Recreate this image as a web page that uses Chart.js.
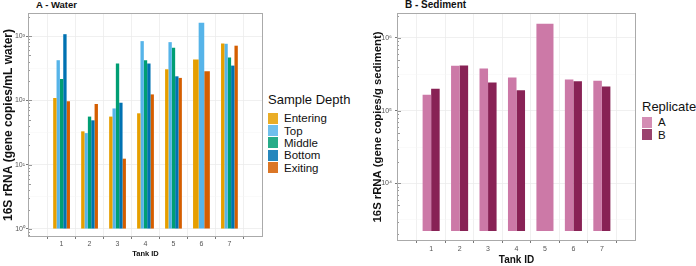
<!DOCTYPE html>
<html lang="en">
<head>
<meta charset="UTF-8" />
<title>16S rRNA by tank</title>
<script src="https://cdn.jsdelivr.net/npm/chart.js"></script>
<style>
  body{margin:0;background:#fff;font-family:"Liberation Sans",Arial,sans-serif;}
  .wrap{position:relative;width:696px;height:266px;overflow:hidden;}
  canvas{position:absolute;top:0;}
  .ptitle{position:absolute;font-weight:bold;color:#111;white-space:nowrap;line-height:1;}
  .legend{position:absolute;color:#111;}
  .legend .lt{font-size:13px;line-height:15px;white-space:nowrap;}
  .legend .row{display:flex;align-items:center;height:12.4px;font-size:11.5px;}
  .legend .sw{width:10px;height:11px;margin-right:6px;opacity:.85;}
</style>
</head>
<body>
<div class="wrap">
  <div class="ptitle" style="left:36px;top:0px;font-size:9.5px;">A - Water</div>
  <div class="ptitle" style="left:405px;top:0px;font-size:10px;">B - Sediment</div>
  <canvas id="waterChart" width="264" height="266" style="left:0;"></canvas>
  <canvas id="sedChart" width="271" height="266" style="left:366px;"></canvas>
  <div class="legend" id="waterLegend" style="left:268px;top:92px;"></div>
  <div class="legend" id="sedLegend" style="left:642px;top:99px;"></div>
</div>

<script>
// --------- data ---------
const tankIds = [1, 2, 3, 4, 5, 6, 7];

const depthLabels = ['Entering', 'Top', 'Middle', 'Bottom', 'Exiting'];
const depthColors = ['#E69F00', '#56B4E9', '#009E73', '#0072B2', '#D55E00'];
const waterEntering = [109, 33, 56, 63, 305, 432, 768];
const waterTop      = [422, 31, 75, 836, 806, 1620, 760];
const waterMiddle   = [215, 56, 375, 422, 660, null, 465];
const waterBottom   = [1072, 49, 92, 375, 237, null, 348];
const waterExiting  = [97, 88, 12.4, 124, 224, 284, 710];

const repLabels = ['A', 'B'];
const repColors = ['#CC79A7', '#882255'];
const sedimentA = [165600, 413000, 379000, 286000, 1556000, 268000, 258000];
const sedimentB = [200000, 418000, 244000, 190000, null, 254000, 215000];

// --------- helpers ---------
const FONT = '"Liberation Sans", Arial, sans-serif';
const SUP = '⁰¹²³⁴⁵⁶⁷⁸⁹';
const isMajor = v => Math.abs(Math.log10(v) - Math.round(Math.log10(v))) < 1e-6;
const powLabel = v => '10' + String(Math.round(Math.log10(v))).split('').map(d => SUP[+d]).join('');

// gridlines at whole and half decades, labels on whole decades
function halfDecadeTicks(scale) {
  const lo = Math.ceil(Math.log10(scale.min) * 2 - 1e-9);
  const hi = Math.floor(Math.log10(scale.max) * 2 + 1e-9);
  const t = [];
  for (let h = lo; h <= hi; h++) t.push({ value: Math.pow(10, h / 2) });
  scale.ticks = t;
}

// panel border + log tick marks inside the left edge
const framePlugin = {
  id: 'frame',
  afterDraw(chart) {
    const { ctx, chartArea: a } = chart;
    const y = chart.scales.y;
    ctx.save();
    ctx.strokeStyle = '#555';
    ctx.lineWidth = 0.6;
    const n0 = Math.floor(Math.log10(y.min)), n1 = Math.ceil(Math.log10(y.max));
    for (let n = n0; n <= n1; n++) {
      for (let k = 1; k <= 9; k++) {
        const v = k * Math.pow(10, n);
        if (v < y.min || v > y.max) continue;
        const py = Math.round(y.getPixelForValue(v)) + 0.5;
        const len = k === 1 ? 4 : (k === 5 ? 3 : 2);
        ctx.beginPath();
        ctx.moveTo(a.left, py);
        ctx.lineTo(a.left + len, py);
        ctx.stroke();
      }
    }
    ctx.strokeStyle = '#aaa';
    ctx.lineWidth = 1;
    ctx.strokeRect(a.left + 0.5, a.top + 0.5, a.right - a.left - 1, a.bottom - a.top - 1);
    ctx.restore();
  }
};

function makeChart(id, datasets, opt) {
  return new Chart(document.getElementById(id), {
    type: 'bar',
    data: { datasets },
    options: {
      responsive: false,
      animation: false,
      devicePixelRatio: 1,
      layout: { padding: { top: 13, right: 1, left: 0, bottom: 0 } },
      plugins: { legend: { display: false }, tooltip: { enabled: false } },
      datasets: { bar: { categoryPercentage: 0.6, barPercentage: 1, skipNull: true, borderWidth: 0, base: opt.base } },
      scales: {
        x: {
          type: 'linear', min: 0.4, max: 7.6,
          afterBuildTicks: s => { s.ticks = tankIds.map(v => ({ value: v })); },
          afterFit: s => { s.height = opt.xHeight; },
          border: { display: false },
          grid: { color: '#ececec', lineWidth: 0.8, tickColor: '#555', tickLength: 2 },
          ticks: { font: { family: FONT, size: 7 }, color: '#555', padding: opt.xPad, maxRotation: 0, autoSkip: false },
          title: { display: true, text: 'Tank ID', color: '#111', font: { family: FONT, size: opt.xTitleSize, weight: 'bold' }, padding: { top: 0, bottom: opt.xTitlePad } }
        },
        y: {
          type: 'logarithmic', min: opt.yMin, max: opt.yMax,
          afterBuildTicks: halfDecadeTicks,
          afterFit: s => { s.width = opt.yWidth; },
          border: { display: false },
          grid: {
            color: c => (c.tick && isMajor(c.tick.value)) ? '#ececec' : '#f4f4f4',
            lineWidth: c => (c.tick && isMajor(c.tick.value)) ? 0.8 : 0.5,
            tickColor: c => (c.tick && isMajor(c.tick.value)) ? '#555' : 'rgba(0,0,0,0)',
            tickLength: 2
          },
          ticks: { autoSkip: false, font: { family: FONT, size: 7 }, color: '#555', padding: opt.yPad, callback: v => isMajor(v) ? powLabel(v) : '' },
          title: { display: true, text: opt.yTitle, color: '#111', font: { family: FONT, size: opt.yTitleSize, weight: 'bold' }, padding: { top: opt.yTitlePad, bottom: 0 } }
        }
      }
    },
    plugins: [framePlugin]
  });
}

const series = vals => tankIds.map((t, i) => ({ x: t, y: vals[i] }));

// --------- A - Water ---------
const waterSeries = [waterEntering, waterTop, waterMiddle, waterBottom, waterExiting];
makeChart('waterChart',
  depthLabels.map((l, i) => ({ label: l, data: series(waterSeries[i]), backgroundColor: depthColors[i] })),
  { base: 1, yMin: 0.75, yMax: 2290, yWidth: 28, xHeight: 29, xPad: 1, yPad: 1,
    xTitleSize: 7.5, xTitlePad: 7.5, yTitle: '16S rRNA (gene copies/mL water)', yTitleSize: 12, yTitlePad: 1 });

// --------- B - Sediment ---------
const sedSeries = [sedimentA, sedimentB];
makeChart('sedChart',
  repLabels.map((l, i) => ({ label: l, data: series(sedSeries[i]), backgroundColor: repColors[i] })),
  { base: 2220, yMin: 1620, yMax: 2190000, yWidth: 31, xHeight: 25, xPad: 2, yPad: 3,
    xTitleSize: 10, xTitlePad: 0, yTitle: '16S rRNA (gene copies/g sediment)', yTitleSize: 11.3, yTitlePad: 5 });

// --------- legends ---------
function buildLegend(id, title, labels, colors, gap) {
  const el = document.getElementById(id);
  el.innerHTML = `<div class="lt" style="margin-bottom:${gap}px">${title}</div>` +
    labels.map((l, i) => `<div class="row"><span class="sw" style="background:${colors[i]}"></span>${l}</div>`).join('');
}
buildLegend('waterLegend', 'Sample Depth', depthLabels, depthColors, 5);
buildLegend('sedLegend', 'Replicate', repLabels, repColors, 2);
</script>
</body>
</html>
